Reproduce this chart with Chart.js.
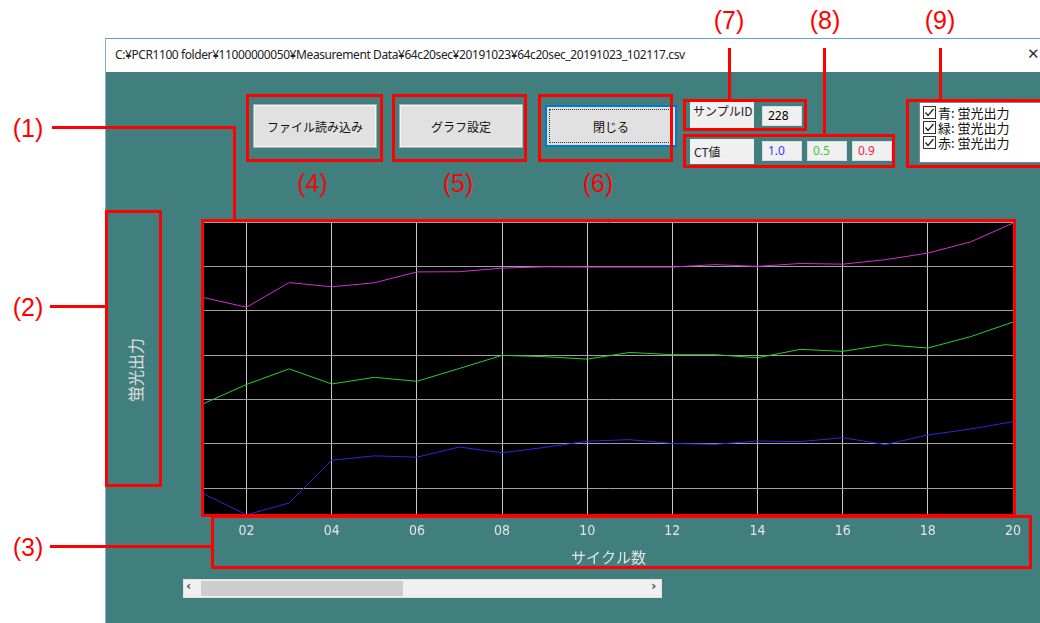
<!DOCTYPE html>
<html>
<head>
<meta charset="utf-8">
<script src="https://cdn.jsdelivr.net/npm/chart.js@4/dist/chart.umd.min.js"></script>
<style>
  body { margin: 0; width: 1040px; height: 623px; background: #fff; position: relative; overflow: hidden;
         font-family: "Noto Sans CJK JP", "Noto Sans", sans-serif; }
  .abs { position: absolute; box-sizing: border-box; }
  .win { left: 105px; top: 38px; width: 935px; height: 585px; background: #417f7e;
         border-top: 1px solid #5fa0d6; border-left: 1px solid #7fb0d0; }
  .titlebar { left: 106px; top: 39px; width: 934px; height: 33px; background: #fff; }
  .titletext { left: 115px; top: 46px; font: 12px "Noto Sans", sans-serif; color: #222; white-space: nowrap; letter-spacing: -0.41px; }
  .closex { left: 1027px; top: 45px; font: 15px "DejaVu Sans", sans-serif; color: #333; }
  .btn { background: #e1e1e1; border: 1px solid #adadad; box-shadow: inset 0 0 0 1px #f4f4f4;
         display: flex; align-items: center; justify-content: center; font-size: 12px; color: #111; }
  .btn.focus { border: 2px solid #0078d7; box-shadow: none; }
  .btn.focus::after { content: ""; position: absolute; left: 2px; top: 2px; right: 2px; bottom: 2px; border: 1px dotted #333; }
  .gray { background: #f0f0f0; font-size: 12px; color: #222; }
  .val { background: #f0f0f0; border: 1px solid #dcdcdc; font: 12px "Noto Sans", sans-serif; padding-left: 5px; line-height: 18px; }
  .list { background: #fff; border: 1px solid #828790; }
  .row { left: 923px; height: 15px; font-size: 13px; line-height: 15px; color: #111; display: flex; align-items: center; white-space: nowrap; }
  .row svg { margin-right: 2px; }
  .red { border: 3px solid #ff0000; z-index: 5; }
  .rl { background: #ff0000; z-index: 5; }
  .num { color: #ff0000; font: 25px "Liberation Sans", Arial, sans-serif; transform: translate(-50%, -50%); white-space: nowrap; z-index: 5; }
  .ylab { left: 135px; top: 370px; transform: translate(-50%, -50%) rotate(-90deg); color: #e0e0e0; font-size: 16px; white-space: nowrap; }
  .scroll { left: 183px; top: 579px; width: 479px; height: 19px; background: #f0f0f0; border: 1px solid #e2e2e2; }
  .thumb { left: 201px; top: 581px; width: 202px; height: 15px; background: #cdcdcd; }
  .arrow { top: 578px; font: bold 13px "DejaVu Sans", sans-serif; color: #555; }
  #wrap { left: 190px; top: 212px; width: 850px; height: 358px; }
</style>
</head>
<body>
<div class="abs win"></div>
<div class="abs titlebar"></div>
<div class="abs titletext">C:¥PCR1100 folder¥11000000050¥Measurement Data¥64c20sec¥20191023¥64c20sec_20191023_102117.csv</div>
<div class="abs closex">✕</div>

<div class="abs btn" style="left:253px;top:104px;width:124px;height:44px;">ファイル読み込み</div>
<div class="abs btn" style="left:399px;top:104px;width:124px;height:44px;">グラフ設定</div>
<div class="abs btn focus" style="left:545px;top:105px;width:132px;height:42px;">閉じる</div>

<div class="abs gray" style="left:690px;top:101px;width:64px;height:27px;padding:1px 0 0 3px;">サンプルID</div>
<div class="abs val" style="left:762px;top:106px;width:40px;height:20px;">228</div>
<div class="abs gray" style="left:690px;top:139px;width:64px;height:25px;padding-left:4px;line-height:25px;">CT値</div>
<div class="abs val" style="left:762px;top:141px;width:40px;height:20px;color:#3a3aff;">1.0</div>
<div class="abs val" style="left:807px;top:141px;width:40px;height:20px;color:#3cc83c;">0.5</div>
<div class="abs val" style="left:852px;top:141px;width:40px;height:20px;color:#ff2040;">0.9</div>

<div class="abs list" style="left:919px;top:102px;width:125px;height:61px;"></div>
<div class="abs row" style="top:105px;"><svg width="13" height="13"><rect x="0.5" y="0.5" width="12" height="12" fill="#fff" stroke="#333"/><polyline points="2.5,6.5 5,9.5 10.5,3" fill="none" stroke="#222" stroke-width="1.3"/></svg>青: 蛍光出力</div>
<div class="abs row" style="top:120px;"><svg width="13" height="13"><rect x="0.5" y="0.5" width="12" height="12" fill="#fff" stroke="#333"/><polyline points="2.5,6.5 5,9.5 10.5,3" fill="none" stroke="#222" stroke-width="1.3"/></svg>緑: 蛍光出力</div>
<div class="abs row" style="top:135px;"><svg width="13" height="13"><rect x="0.5" y="0.5" width="12" height="12" fill="#fff" stroke="#333"/><polyline points="2.5,6.5 5,9.5 10.5,3" fill="none" stroke="#222" stroke-width="1.3"/></svg>赤: 蛍光出力</div>

<div class="abs ylab">蛍光出力</div>

<div class="abs" id="wrap"><canvas id="chart" width="850" height="358"></canvas></div>

<div class="abs scroll"></div>
<div class="abs thumb"></div>
<div class="abs arrow" style="left:186px;">‹</div>
<div class="abs arrow" style="left:651px;">›</div>

<!-- annotation boxes -->
<div class="abs red" style="left:246px;top:94px;width:137px;height:68px;"></div>
<div class="abs red" style="left:392px;top:94px;width:135px;height:68px;"></div>
<div class="abs red" style="left:538px;top:94px;width:135px;height:68px;"></div>
<div class="abs red" style="left:683px;top:99px;width:124px;height:32px;"></div>
<div class="abs red" style="left:683px;top:134px;width:212px;height:34px;"></div>
<div class="abs red" style="left:906px;top:99px;width:140px;height:69px;"></div>
<div class="abs red" style="left:201px;top:219px;width:815px;height:298px;"></div>
<div class="abs red" style="left:105px;top:210px;width:57px;height:277px;"></div>
<div class="abs red" style="left:211px;top:515px;width:821px;height:54px;"></div>

<div class="abs rl" style="left:52px;top:126px;width:184px;height:3px;"></div>
<div class="abs rl" style="left:233px;top:126px;width:3px;height:94px;"></div>
<div class="abs rl" style="left:50px;top:305px;width:56px;height:3px;"></div>
<div class="abs rl" style="left:50px;top:545px;width:162px;height:3px;"></div>
<div class="abs rl" style="left:728px;top:48px;width:3px;height:52px;"></div>
<div class="abs rl" style="left:823px;top:48px;width:3px;height:87px;"></div>
<div class="abs rl" style="left:939px;top:48px;width:3px;height:52px;"></div>

<div class="abs num" style="left:28px;top:128px;">(1)</div>
<div class="abs num" style="left:28px;top:307px;">(2)</div>
<div class="abs num" style="left:28px;top:547px;">(3)</div>
<div class="abs num" style="left:312px;top:183px;">(4)</div>
<div class="abs num" style="left:458px;top:183px;">(5)</div>
<div class="abs num" style="left:598px;top:183px;">(6)</div>
<div class="abs num" style="left:729px;top:20px;">(7)</div>
<div class="abs num" style="left:825px;top:20px;">(8)</div>
<div class="abs num" style="left:940px;top:20px;">(9)</div>

<script>
// Cycle numbers (x) and fluorescence output per channel (y)
const cycles = [1, 2, 3, 4, 5, 6, 7, 8, 9, 10, 11, 12, 13, 14, 15, 16, 17, 18, 19, 20];
const blueValues = [870, 400, 670, 1630, 1730, 1700, 1930, 1800, 1920, 2060, 2095, 2010, 1990, 2065, 2050, 2140, 1985, 2200, 2335, 2500];
const greenValues = [2910, 3340, 3690, 3350, 3500, 3410, 3700, 3995, 3965, 3910, 4060, 4010, 4010, 3940, 4130, 4085, 4235, 4160, 4415, 4745];
const magentaValues = [5295, 5080, 5635, 5540, 5630, 5875, 5880, 5960, 5990, 5985, 5985, 5985, 6040, 6000, 6065, 6050, 6150, 6300, 6550, 6975];
const xTickValues = [2, 4, 6, 8, 10, 12, 14, 16, 18, 20];
const xTickLabels = ['02', '04', '06', '08', '10', '12', '14', '16', '18', '20'];
const yGridValues = [1000, 2000, 3000, 4000, 5000, 6000, 7000];
const xTitle = 'サイクル数';

const toPoints = vals => cycles.map((c, i) => ({ x: c, y: vals[i] }));

const blackArea = {
    id: 'blackArea',
    beforeDraw(chart) {
        const { ctx, chartArea: a } = chart;
        ctx.save();
        ctx.fillStyle = '#000';
        ctx.fillRect(a.left, a.top, a.right - a.left, a.bottom - a.top);
        ctx.restore();
    }
};

new Chart(document.getElementById('chart').getContext('2d'), {
    type: 'line',
    data: {
        datasets: [
            { label: '赤', data: toPoints(magentaValues), borderColor: '#d030d0' },
            { label: '緑', data: toPoints(greenValues), borderColor: '#28d028' },
            { label: '青', data: toPoints(blueValues), borderColor: '#2828e8' }
        ].map(d => Object.assign(d, { borderWidth: 1, pointRadius: 0, tension: 0, fill: false }))
    },
    options: {
        responsive: false,
        animation: false,
        layout: { padding: { left: 14, top: 10, right: 27, bottom: 0 } },
        plugins: { legend: { display: false }, tooltip: { enabled: false } },
        scales: {
            x: {
                type: 'linear',
                min: 1,
                max: 20,
                afterFit: s => { s.height = 56; },
                afterBuildTicks: s => { s.ticks = xTickValues.map(v => ({ value: v })); },
                border: { display: false },
                grid: { color: '#c8c8c8', lineWidth: 1, drawTicks: false },
                ticks: {
                    padding: 9,
                    color: '#e4e4e4',
                    font: { family: "'Liberation Sans Narrow', 'DejaVu Sans Condensed', sans-serif", size: 14 },
                    maxRotation: 0,
                    autoSkip: false,
                    callback: v => xTickLabels[xTickValues.indexOf(v)]
                },
                title: {
                    display: true,
                    text: xTitle,
                    color: '#e4e4e4',
                    font: { family: "'Noto Sans CJK JP', sans-serif", size: 15 },
                    padding: { top: 0, bottom: 4 }
                }
            },
            y: {
                min: 420,
                max: 7000,
                afterFit: s => { s.width = 0; },
                afterBuildTicks: s => { s.ticks = yGridValues.map(v => ({ value: v })); },
                border: { display: false },
                grid: { color: '#a0a0a0', lineWidth: 1, drawTicks: false },
                ticks: { display: false }
            }
        }
    },
    plugins: [blackArea]
});
</script>
</body>
</html>
